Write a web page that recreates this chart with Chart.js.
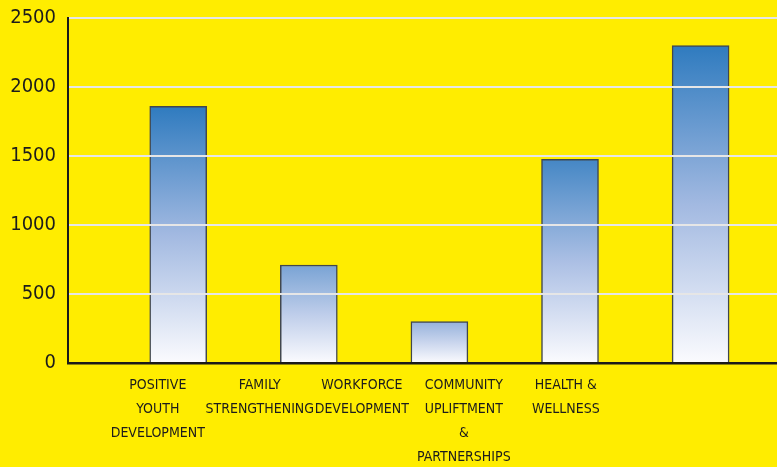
<!DOCTYPE html>
<html>
<head>
<meta charset="utf-8">
<script src="https://cdn.jsdelivr.net/npm/chart.js@4.4.1/dist/chart.umd.min.js"></script>
<style>
  html, body { margin: 0; padding: 0; background: #FFED00; }
  #wrap { width: 777px; height: 467px; }
</style>
</head>
<body>
<div id="wrap"><canvas id="chart" width="777" height="467"></canvas></div>
<script>
// program areas and the number shown for each
const categories = [
    ["POSITIVE", "YOUTH", "DEVELOPMENT"],
    ["FAMILY", "STRENGTHENING"],
    ["WORKFORCE", "DEVELOPMENT"],
    ["COMMUNITY", "UPLIFTMENT", "&", "PARTNERSHIPS"],
    ["HEALTH &", "WELLNESS"]
];
const values = [1860, 710, 300, 1475, 2300];
const yTicks = [0, 500, 1000, 1500, 2000, 2500];

// narrowest face available
const FONT = "'DejaVu Sans Condensed', 'Liberation Sans', sans-serif";

function hex(c) {
    return [parseInt(c.slice(1, 3), 16), parseInt(c.slice(3, 5), 16), parseInt(c.slice(5, 7), 16)];
}
function mix(a, b, t) {
    const x = hex(a), y = hex(b);
    return "rgb(" + x.map((v, i) => Math.round(v + (y[i] - v) * t)).join(",") + ")";
}

// blue at the top of each bar fading to white at the base
function barFill(ctx) {
    const chart = ctx.chart;
    if (!chart.chartArea || ctx.type !== "data") return "#3a7fc1";
    const v = ctx.parsed.y;
    const y = chart.scales.y;
    const top = y.getPixelForValue(v), base = y.getPixelForValue(0);
    const t = Math.min(1, v / 1800);
    const g = chart.ctx.createLinearGradient(0, base, 0, top);
    g.addColorStop(0, "#fbfbfe");
    g.addColorStop(0.5, mix("#f4f4fb", "#7f9fd6", 0.3 + 0.4 * t));
    g.addColorStop(1, mix("#aabde2", "#2f7bbf", t));
    return g;
}

new Chart(document.getElementById("chart"), {
    type: "bar",
    data: {
        datasets: [{
            data: values.map((v, i) => ({ x: i + 1, y: v })),
            backgroundColor: barFill,
            borderColor: "#41474d",
            borderWidth: 1.5,
            borderSkipped: "bottom",
            barThickness: 57,
            xAxisID: "x",
            yAxisID: "y"
        }]
    },
    options: {
        responsive: false,
        animation: false,
        events: [],
        layout: { padding: { top: 18, right: 0, left: 0, bottom: 0 } },
        plugins: { legend: { display: false }, tooltip: { enabled: false } },
        scales: {
            x: {
                type: "linear",
                position: "bottom",
                offset: false,
                min: 0.156,
                max: 5.585,
                grid: { display: false, drawTicks: false, offset: false },
                ticks: { display: false },
                border: { display: true, color: "#1a1a1a", width: 2.5 },
                afterFit: (s) => { s.height = 0; }
            },
            xl: {
                type: "linear",
                position: "bottom",
                offset: false,
                min: 0.12,
                max: 7.07,
                grid: { display: false, drawTicks: false, offset: false },
                border: { display: false },
                afterBuildTicks: (s) => { s.ticks = categories.map((c, i) => ({ value: i + 1 })); },
                ticks: {
                    autoSkip: false,
                    maxRotation: 0,
                    minRotation: 0,
                    padding: 10,
                    color: "#1c1c1c",
                    font: { family: FONT, size: 14, lineHeight: "24px" },
                    callback: (v) => categories[Math.round(v) - 1] || ""
                },
                afterFit: (s) => { s.height = 104; s.paddingLeft = 0; s.paddingRight = 0; }
            },
            y: {
                min: 0,
                max: 2500,
                afterBuildTicks: (s) => { s.ticks = yTicks.map((v) => ({ value: v })); },
                grid: {
                    z: 1,
                    drawTicks: false,
                    lineWidth: 2,
                    color: (c) => (c.tick && c.tick.value === 0 ? "rgba(0,0,0,0)" : "#e6e6e6")
                },
                border: { display: true, color: "#1a1a1a", width: 2, z: 2 },
                ticks: {
                    padding: 12,
                    color: "#1c1c1c",
                    font: { family: FONT, size: 20 },
                    callback: (v) => String(v)
                },
                afterFit: (s) => { s.width = 68; s.paddingTop = 0; s.paddingBottom = 0; }
            }
        }
    }
});
</script>
</body>
</html>
